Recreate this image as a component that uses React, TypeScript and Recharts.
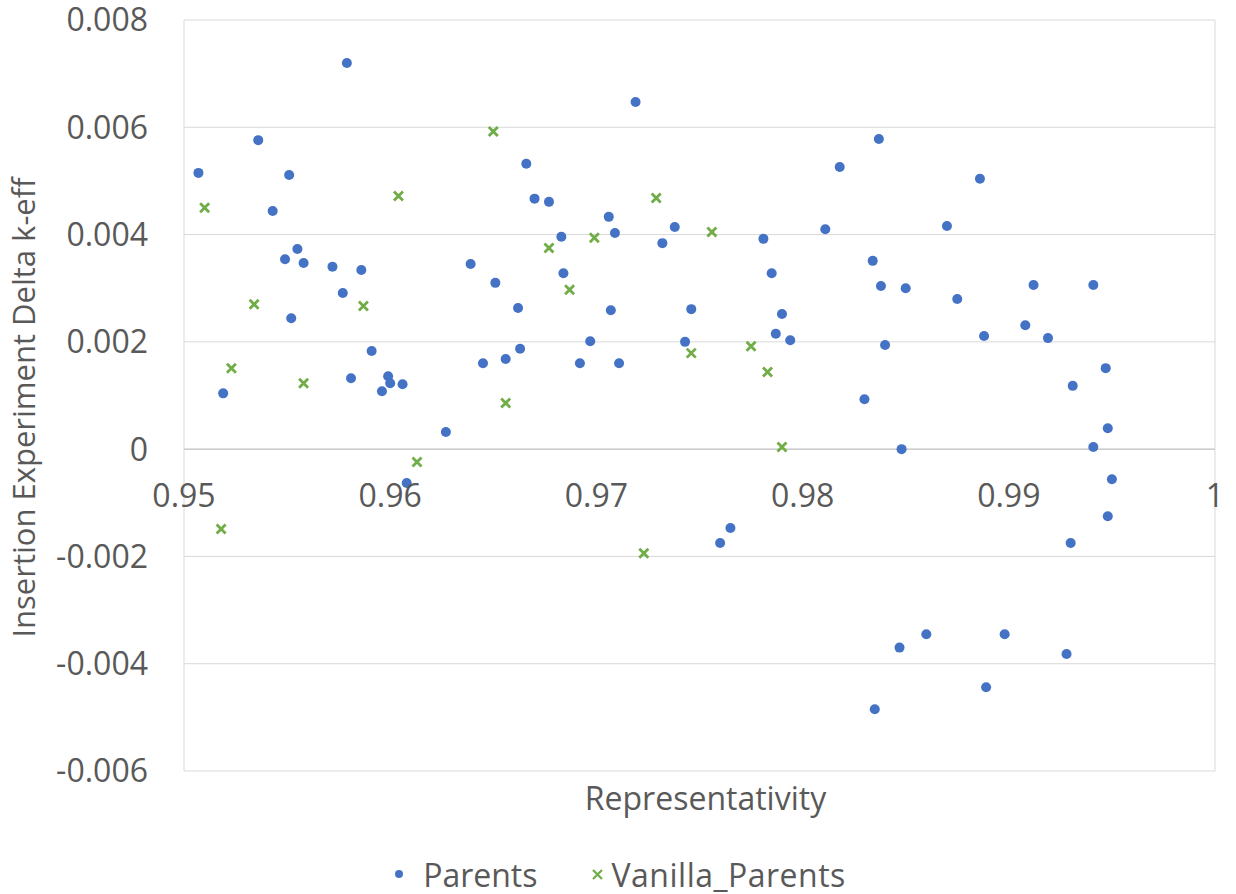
import { ScatterChart, Scatter, XAxis, YAxis, CartesianGrid, ReferenceLine, ReferenceDot, Legend } from 'recharts';

// [representativity, delta k-eff]
const parents: [number, number][] = [
  [0.9507, 0.00515], [0.9519, 0.00104], [0.9536, 0.00576], [0.9543, 0.00444],
  [0.9549, 0.00354], [0.9551, 0.00511], [0.9552, 0.00244], [0.9555, 0.00373],
  [0.9558, 0.00347], [0.9572, 0.0034], [0.9577, 0.00291], [0.9579, 0.0072],
  [0.9581, 0.00132], [0.9586, 0.00334], [0.9591, 0.00183], [0.9596, 0.00108],
  [0.9599, 0.00136], [0.96, 0.00123], [0.9606, 0.00121], [0.9608, -0.00063],
  [0.9627, 0.00032], [0.9639, 0.00345], [0.9645, 0.0016], [0.9651, 0.0031],
  [0.9656, 0.00168], [0.9662, 0.00263], [0.9663, 0.00187], [0.9666, 0.00532],
  [0.967, 0.00467], [0.9677, 0.00461], [0.9683, 0.00396], [0.9684, 0.00328],
  [0.9692, 0.0016], [0.9697, 0.00201], [0.9706, 0.00433], [0.9707, 0.00259],
  [0.9709, 0.00403], [0.9711, 0.0016], [0.9719, 0.00647], [0.9732, 0.00384],
  [0.9738, 0.00414], [0.9743, 0.002], [0.9746, 0.00261], [0.976, -0.00175],
  [0.9765, -0.00147], [0.9781, 0.00392], [0.9785, 0.00328], [0.9787, 0.00215],
  [0.979, 0.00252], [0.9794, 0.00203], [0.9811, 0.0041], [0.9818, 0.00526],
  [0.983, 0.00093], [0.9834, 0.00351], [0.9835, -0.00485], [0.9837, 0.00578],
  [0.9838, 0.00304], [0.984, 0.00194], [0.9847, -0.0037], [0.9848, 0.0],
  [0.985, 0.003], [0.986, -0.00345], [0.987, 0.00416], [0.9875, 0.0028],
  [0.9886, 0.00504], [0.9888, 0.00211], [0.9889, -0.00444], [0.9898, -0.00345],
  [0.9908, 0.00231], [0.9912, 0.00306], [0.9919, 0.00207], [0.9928, -0.00382],
  [0.993, -0.00175], [0.9931, 0.00118], [0.9941, 0.00306], [0.9941, 0.00004],
  [0.9947, 0.00151], [0.9948, 0.00039], [0.9948, -0.00125], [0.995, -0.00056],
];

const vanillaParents: [number, number][] = [
  [0.951, 0.0045], [0.9518, -0.00149], [0.9523, 0.00151], [0.9534, 0.0027],
  [0.9558, 0.00123], [0.9587, 0.00267], [0.9604, 0.00472], [0.9613, -0.00024],
  [0.965, 0.00592], [0.9656, 0.00086], [0.9677, 0.00375], [0.9687, 0.00297],
  [0.9699, 0.00394], [0.9723, -0.00194], [0.9729, 0.00468], [0.9746, 0.00179],
  [0.9756, 0.00405], [0.9775, 0.00192], [0.9783, 0.00144], [0.979, 0.00004],
];

const xTicks = [0.95, 0.96, 0.97, 0.98, 0.99, 1];
const yTicks = [-0.006, -0.004, -0.002, 0, 0.002, 0.004, 0.006, 0.008];

const BLUE = '#4472C4';
const GREEN = '#70AD47';
const TEXT = '#595959';

const parentsData = parents.map(([x, y]) => ({ x, y }));
const vanillaData = vanillaParents.map(([x, y]) => ({ x, y }));

const DotShape = (p: any) => <circle cx={p.cx} cy={p.cy} r={5} fill={BLUE} />;

const CrossShape = (p: any) => {
  const s = 4.5;
  return (
    <path
      d={`M${p.cx - s},${p.cy - s}L${p.cx + s},${p.cy + s}M${p.cx + s},${p.cy - s}L${p.cx - s},${p.cy + s}`}
      stroke={GREEN}
      strokeWidth={2.8}
      fill="none"
    />
  );
};

const fmtY = (v: number) => (v === 0 ? '0' : v.toFixed(3));

const renderLegend = () => (
  <div style={{ display: 'flex', justifyContent: 'center', alignItems: 'center', height: 40, paddingLeft: 25, fontSize: 32, color: TEXT }}>
    <svg width={10} height={10}><circle cx={5} cy={5} r={4} fill={BLUE} /></svg>
    <span style={{ marginLeft: 19 }}>Parents</span>
    <svg width={13} height={13} style={{ marginLeft: 54 }}>
      <path d="M2,2L11,11M11,2L2,11" stroke={GREEN} strokeWidth={2.2} />
    </svg>
    <span style={{ marginLeft: 7, letterSpacing: 0.5 }}>Vanilla_Parents</span>
  </div>
);

const App = () => {
  return (
    <div style={{ fontFamily: '"Open Sans", sans-serif' }}>
      <style>{'body{margin:0}'}</style>
      <ScatterChart width={1236} height={894} margin={{ top: 20, right: 21, bottom: 0, left: 0 }}>
        <CartesianGrid stroke="#d9d9d9" />
        <XAxis
          type="number"
          dataKey="x"
          domain={[0.95, 1]}
          ticks={xTicks}
          tick={false}
          tickLine={false}
          axisLine={false}
          height={83}
          label={{ value: 'Representativity', position: 'insideTop', offset: 16, dx: 6, fill: TEXT, fontSize: 32 }}
        />
        <YAxis
          type="number"
          dataKey="y"
          domain={[-0.006, 0.008]}
          ticks={yTicks}
          width={184}
          tickLine={false}
          axisLine={false}
          tickMargin={30}
          tickFormatter={fmtY}
          tick={{ fill: TEXT, fontSize: 32 }}
          label={{
            content: ({ viewBox }: any) => {
              const cx = viewBox.x + 23;
              const cy = viewBox.y + viewBox.height / 2 + 12;
              return (
                <text
                  x={cx}
                  y={cy}
                  transform={`rotate(-90, ${cx}, ${cy})`}
                  textAnchor="middle"
                  dominantBaseline="central"
                  fill={TEXT}
                  fontSize={31}
                >
                  Insertion Experiment Delta k-eff
                </text>
              );
            },
          }}
        />
        <ReferenceLine y={0} stroke="#bfbfbf" />
        {xTicks.map((t) => (
          <ReferenceDot
            key={t}
            x={t}
            y={0}
            r={1}
            fill="none"
            stroke="none"
            label={{ value: String(t), position: 'bottom', offset: 34, fill: TEXT, fontSize: 32 }}
          />
        ))}
        <Scatter name="Parents" data={parentsData} shape={DotShape} isAnimationActive={false} />
        <Scatter name="Vanilla_Parents" data={vanillaData} shape={CrossShape} isAnimationActive={false} />
        <Legend verticalAlign="bottom" content={renderLegend} />
      </ScatterChart>
    </div>
  );
};

export default App;
